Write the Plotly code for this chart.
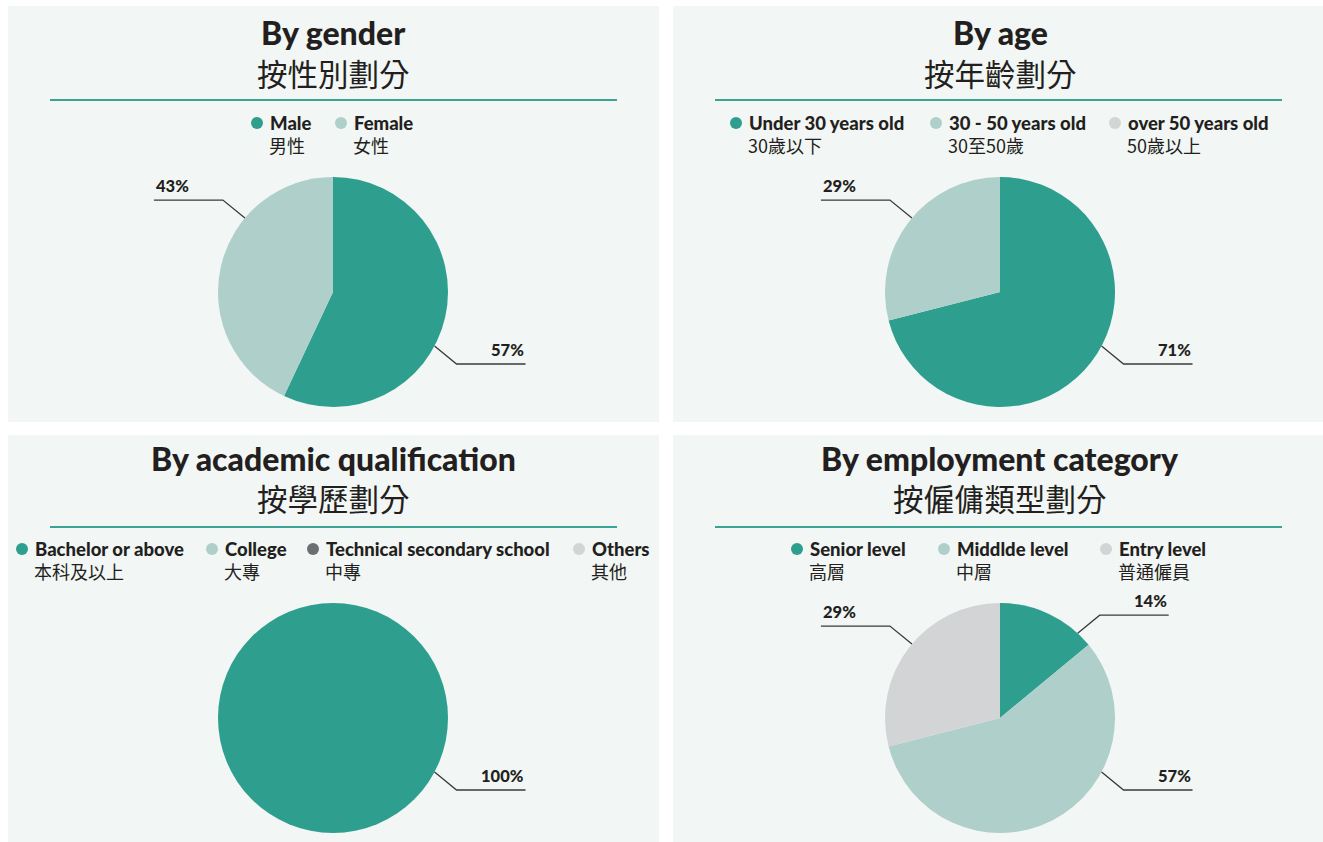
import math
import plotly.graph_objects as go

W, H = 1323, 842

# ---------------- data ----------------
gender_en = ["Male", "Female"]
gender_zh = ["男性", "女性"]
gender_values = [57, 43]

age_en = ["Under 30 years old", "30 - 50 years old", "over 50 years old"]
age_zh = ["30歲以下", "30至50歲", "50歲以上"]
age_values = [71, 29, 0]

edu_en = ["Bachelor or above", "College", "Technical secondary school", "Others"]
edu_zh = ["本科及以上", "大專", "中專", "其他"]
edu_values = [100, 0, 0, 0]

emp_en = ["Senior level", "Middlde level", "Entry level"]
emp_zh = ["高層", "中層", "普通僱員"]
emp_values = [14, 57, 29]

# ---------------- styles ----------------
TEAL = "#2e9e8f"
LTEAL = "#aecfca"
GREY = "#d3d4d6"
DGREY = "#6d6e71"
PANEL_BG = "#f2f6f4"
TXT = "#231f20"
LINE = "#3a3a3a"
EN_FONT = "Lato, 'Open Sans', sans-serif"
ZH_FONT = "'Noto Sans CJK TC', 'Noto Sans CJK SC', sans-serif"

R = 115  # pie radius in px

panels = [
    dict(title_en="By gender", title_zh="按性別劃分", en=gender_en, zh=gender_zh,
         values=gender_values, colors=[TEAL, LTEAL],
         rect=(8, 6, 659, 422), cx=333, row=0, legend_x=[268, 352], label_angles=[118, 310]),
    dict(title_en="By age", title_zh="按年齡劃分", en=age_en, zh=age_zh,
         values=age_values, colors=[TEAL, LTEAL, GREY],
         rect=(673, 6, 1324, 422), cx=1000, row=0, legend_x=[747, 947, 1126], label_angles=[118, 310, None]),
    dict(title_en="By academic qualification", title_zh="按學歷劃分", en=edu_en, zh=edu_zh,
         values=edu_values, colors=[TEAL, LTEAL, DGREY, GREY],
         rect=(8, 435, 659, 842), cx=333, row=1, legend_x=[33, 223, 324, 590], label_angles=[118, None, None, None]),
    dict(title_en="By employment category", title_zh="按僱傭類型劃分", en=emp_en, zh=emp_zh,
         values=emp_values, colors=[TEAL, LTEAL, GREY],
         rect=(673, 435, 1324, 842), cx=1000, row=1, legend_x=[808, 955, 1117], label_angles=[42.5, 118, 310]),
]

# vertical layout per row: title, subtitle, rule, legend line1, legend line2, pie centre
rows = [
    dict(title=32, sub=72.5, rule=100, leg1=123, leg2=145, cy=292),
    dict(title=458, sub=497.5, rule=527, leg1=549, leg2=571, cy=718),
]


def px(x):
    return x / W


def py(y):
    return 1 - y / H


fig = go.Figure()
shapes = []
annotations = []

for p in panels:
    x0, y0, x1, y1 = p["rect"]
    rw = rows[p["row"]]
    cx = p["cx"]
    cy = rw["cy"]

    # panel background
    shapes.append(dict(type="rect", xref="paper", yref="paper", layer="below",
                       x0=px(x0), x1=px(min(x1, W)), y0=py(y1), y1=py(y0),
                       fillcolor=PANEL_BG, line=dict(width=0)))
    # rule under title
    shapes.append(dict(type="line", xref="paper", yref="paper",
                       x0=px(x0 + 42), x1=px(x0 + 42 + 567), y0=py(rw["rule"]), y1=py(rw["rule"]),
                       line=dict(color="#3aa394", width=2)))
    # titles
    annotations.append(dict(text=p["title_en"], xref="paper", yref="paper",
                            x=px(cx), y=py(rw["title"]), xanchor="center", yanchor="middle",
                            showarrow=False,
                            font=dict(family=EN_FONT, size=32, color=TXT, weight=900)))
    annotations.append(dict(text=p["title_zh"], xref="paper", yref="paper",
                            x=px(cx), y=py(rw["sub"]), xanchor="center", yanchor="middle",
                            showarrow=False, font=dict(family=ZH_FONT, size=30.5, color=TXT)))

    # legend
    for en, zh, col, lx in zip(p["en"], p["zh"], p["colors"], p["legend_x"]):
        mx = lx - 11
        my = rw["leg1"]
        shapes.append(dict(type="circle", xref="paper", yref="paper",
                           x0=px(mx - 6), x1=px(mx + 6), y0=py(my + 6), y1=py(my - 6),
                           fillcolor=col, line=dict(width=0)))
        annotations.append(dict(text=en, xref="paper", yref="paper",
                                x=px(lx), y=py(rw["leg1"]), xanchor="left", yanchor="middle",
                                showarrow=False,
                                font=dict(family=EN_FONT, size=18.5, color=TXT, weight=900)))
        annotations.append(dict(text=zh, xref="paper", yref="paper",
                                x=px(lx - 1), y=py(rw["leg2"]), xanchor="left", yanchor="middle",
                                showarrow=False, font=dict(family=ZH_FONT, size=18, color=TXT)))

    # pie
    fig.add_trace(go.Pie(
        values=p["values"], labels=p["en"], marker=dict(colors=p["colors"], line=dict(width=0)),
        sort=False, direction="clockwise", rotation=0, textinfo="none",
        hoverinfo="label+percent", showlegend=False,
        domain=dict(x=[px(cx - R), px(cx + R)], y=[py(cy + R), py(cy - R)]),
    ))

    # leader lines + percentage labels
    total = sum(p["values"])
    for v, ang in zip(p["values"], p["label_angles"]):
        if v == 0 or ang is None:
            continue
        a = math.radians(ang)
        ax, ay = cx + R * math.sin(a), cy - R * math.cos(a)
        sx = 1 if math.sin(a) > 0 else -1
        sy = 1 if math.cos(a) < 0 else -1
        ex, ey = ax + sx * 22, ay + sy * 18
        hx = ex + sx * 69
        shapes.append(dict(type="path", xref="paper", yref="paper",
                           path=f"M {px(ax)} {py(ay)} L {px(ex)} {py(ey)} L {px(hx)} {py(ey)}",
                           line=dict(color=LINE, width=1.3)))
        pct = round(v / total * 100)
        annotations.append(dict(text=f"{pct}%", xref="paper", yref="paper",
                                x=px(hx), y=py(ey - 2), xanchor="right" if sx > 0 else "left",
                                yanchor="bottom", showarrow=False,
                                font=dict(family=EN_FONT, size=16.5, color=TXT, weight=900)))

fig.update_layout(
    width=W, height=H, margin=dict(l=0, r=0, t=0, b=0),
    paper_bgcolor="white", plot_bgcolor="white",
    shapes=shapes, annotations=annotations,
)

fig.write_html("out.html")
